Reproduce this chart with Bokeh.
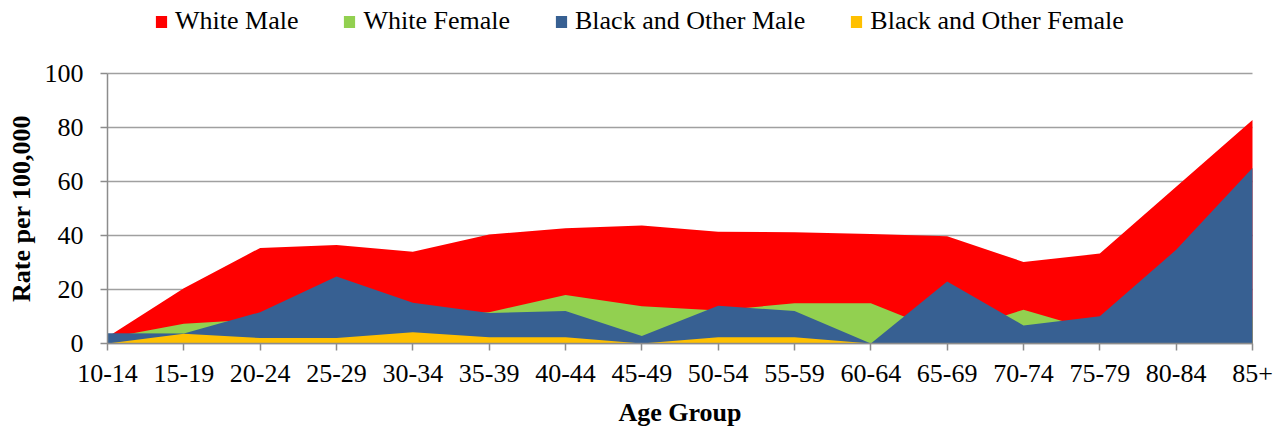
from bokeh.plotting import figure
from bokeh.models import Range1d, FixedTicker, Legend, LegendItem, Label
from bokeh.embed import file_html
from bokeh.resources import INLINE

age_groups = ["10-14", "15-19", "20-24", "25-29", "30-34", "35-39", "40-44", "45-49",
              "50-54", "55-59", "60-64", "65-69", "70-74", "75-79", "80-84", "85+"]
white_male = [2.4, 20.5, 35.4, 36.5, 34.0, 40.4, 42.7, 43.7, 41.4, 41.2, 40.6, 39.7, 30.2, 33.3, 58.1, 82.8]
white_female = [2.0, 7.3, 9.0, 9.0, 10.0, 11.6, 18.0, 13.8, 12.2, 14.9, 14.9, 3.6, 12.5, 4.3, 6.0, 10.0]
black_other_male = [3.8, 3.7, 11.6, 24.8, 15.1, 11.3, 12.0, 2.8, 14.0, 12.0, 0.0, 23.0, 6.7, 10.1, 34.7, 65.0]
black_other_female = [0.0, 3.6, 2.0, 2.0, 4.2, 2.3, 2.3, 0.0, 2.3, 2.3, 0.0, 0.0, 0.0, 0.0, 0.0, 0.0]
y_ticks = [0, 20, 40, 60, 80, 100]

series_names = ["White Male", "White Female", "Black and Other Male", "Black and Other Female"]
series_colors = ["#FF0000", "#92D050", "#376092", "#FFC000"]
series_values = [white_male, white_female, black_other_male, black_other_female]

x = list(range(len(age_groups)))
FONT = "Liberation Serif"

# layout in pixels: canvas size and the plot area inside it
W, H = 1281, 428
PL, PR, PT, PB = 107, 1252, 73, 343
x_max = len(age_groups) - 1
y_max = y_ticks[-1]
kx = (PR - PL) / x_max
ky = (PB - PT) / y_max

p = figure(width=W, height=H, output_backend="svg", toolbar_location=None,
           x_range=Range1d(-PL / kx, x_max + (W - PR) / kx),
           y_range=Range1d(-(H - PB) / ky, y_max + PT / ky),
           min_border_left=0, min_border_right=0, min_border_top=0, min_border_bottom=0)
p.outline_line_color = None
p.background_fill_color = "white"
p.border_fill_color = "white"

renderers = []
for vals, col in zip(series_values, series_colors):
    r = p.varea(x=x, y1=0, y2=vals, fill_color=col, fill_alpha=1.0)
    renderers.append(r)

legend = Legend(items=[LegendItem(label=n, renderers=[r]) for n, r in zip(series_names, renderers)],
                orientation="horizontal", location=(154, H - 36),
                border_line_color=None, background_fill_alpha=0, padding=0, margin=0,
                spacing=44, label_standoff=7, glyph_width=14, glyph_height=15,
                label_text_font=FONT, label_text_font_size="26px", label_text_color="black")
p.add_layout(legend)

p.xaxis.ticker = FixedTicker(ticks=x)
p.xaxis.major_label_overrides = {i: lab for i, lab in enumerate(age_groups)}
p.yaxis.ticker = FixedTicker(ticks=y_ticks)
p.xaxis.axis_label = "Age Group"
p.yaxis.axis_label = "Rate per 100,000"
p.xaxis.fixed_location = 0
p.yaxis.fixed_location = 0
p.xaxis.bounds = (0, x_max)
p.yaxis.bounds = (0, y_max)

for ax in (p.xaxis, p.yaxis):
    ax.axis_line_color = "#8c8c8c"
    ax.axis_line_width = 1.5
    ax.major_tick_line_color = "#8c8c8c"
    ax.major_tick_line_width = 1.5
    ax.major_tick_in = 0
    ax.major_tick_out = 7
    ax.minor_tick_line_color = None
    ax.major_label_text_font = FONT
    ax.major_label_text_font_size = "26px"
    ax.major_label_text_color = "black"
    ax.axis_label_text_font = FONT
    ax.axis_label_text_font_size = "26px"
    ax.axis_label_text_font_style = "bold"
    ax.axis_label_text_color = "black"

p.xaxis.major_label_standoff = 14
p.xaxis.axis_label_standoff = 13
p.yaxis.major_label_standoff = 17
p.yaxis.axis_label_standoff = 6

p.xgrid.visible = False
yg = p.ygrid[0]
yg.grid_line_color = "#a0a0a0"
yg.grid_line_width = 1.5
if "cross_bounds" in yg.properties():
    yg.cross_bounds = (0, x_max)
else:
    yg.visible = False
    p.segment(x0=[0] * len(y_ticks), x1=[x_max] * len(y_ticks), y0=y_ticks, y1=y_ticks,
              line_color="#a0a0a0", line_width=1.5, level="underlay")

src = Label(x=3, y=-(435 - H), x_units="screen", y_units="screen",
            text="Alabama Center for Health Statistics, 2016",
            text_font=FONT, text_font_size="21px", text_color="black",
            text_baseline="alphabetic")
p.add_layout(src)

open("out.html", "w").write(file_html(p, INLINE))
